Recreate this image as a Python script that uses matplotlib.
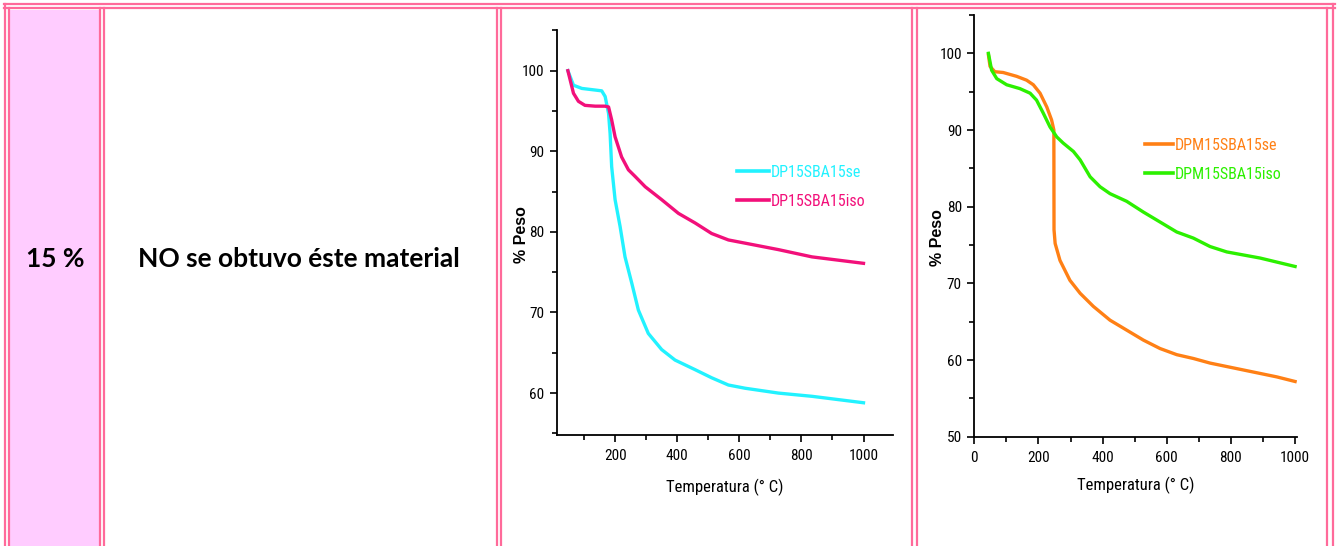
import matplotlib
matplotlib.use("Agg")
import matplotlib.pyplot as plt
from matplotlib import font_manager
from matplotlib.patches import Rectangle
from matplotlib.lines import Line2D
from matplotlib.ticker import MultipleLocator

# ---- data: thermogravimetric curves (temperature in °C, weight %) ----
dp_se_T = [48, 66, 93, 136, 157, 168, 179, 184, 189, 200, 216, 232, 254, 275, 307, 350, 393,
           458, 511, 565, 619, 726, 834, 1000]
dp_se_W = [100, 98.2, 97.8, 97.6, 97.5, 96.8, 94.7, 92.2, 88.1, 84.0, 80.7, 76.9, 73.6, 70.3,
           67.4, 65.4, 64.1, 62.9, 61.9, 61.0, 60.6, 60.0, 59.6, 58.8]

dp_iso_T = [48, 66, 82, 103, 136, 168, 179, 189, 200, 221, 243, 264, 297, 350, 404, 458, 511,
            565, 619, 726, 834, 1000]
dp_iso_W = [100, 97.2, 96.2, 95.7, 95.6, 95.6, 95.5, 93.9, 91.8, 89.3, 87.7, 86.9, 85.6, 84.0,
            82.3, 81.1, 79.8, 79.0, 78.6, 77.8, 76.9, 76.1]

dpm_se_T = [44, 49, 64, 90, 132, 163, 184, 205, 226, 241, 248, 248.5, 252, 267, 298, 330, 371,
            423, 475, 527, 579, 631, 683, 735, 839, 943, 1000]
dpm_se_W = [99.8, 98.3, 97.6, 97.5, 97.0, 96.5, 95.9, 94.8, 93.0, 91.3, 90.0, 77.0, 75.2, 73.0,
            70.4, 68.7, 67.0, 65.2, 63.9, 62.6, 61.5, 60.7, 60.2, 59.6, 58.7, 57.8, 57.2]

dpm_iso_T = [44, 54, 70, 101, 142, 174, 194, 215, 236, 257, 277, 309, 330, 361, 392, 423, 475,
             527, 579, 631, 683, 735, 787, 891, 1000]
dpm_iso_W = [100, 97.8, 96.7, 95.9, 95.4, 94.8, 93.9, 92.2, 90.4, 89.1, 88.3, 87.2, 86.1, 83.9,
             82.6, 81.7, 80.7, 79.3, 78.0, 76.7, 75.9, 74.8, 74.1, 73.3, 72.2]

row_label = "15 %"
row_note = "NO se obtuvo éste material"
x_label = "Temperatura (° C)"
y_label = "% Peso"
labels_dp = ["DP15SBA15se", "DP15SBA15iso"]
labels_dpm = ["DPM15SBA15se", "DPM15SBA15iso"]

# ---- styling ----
PINK = "#FF6A9A"
CELL_FILL = "#FFCCFF"
CYAN = "#22F2FF"
MAGENTA = "#F2107A"
ORANGE = "#FF8015"
GREEN = "#2CF000"


def pick_narrow_font():
    """Return (family, stretch) of a condensed sans face if one is installed."""
    entries = font_manager.fontManager.ttflist
    names = {f.name for f in entries}
    for fam in ("Liberation Sans Narrow", "Roboto Condensed", "DejaVu Sans Condensed",
                "Noto Sans Condensed", "Open Sans Condensed", "Arial Narrow"):
        if fam in names:
            return fam, "normal"
    for f in entries:
        if f.style == "normal" and str(f.stretch) in ("condensed", "semi-condensed") \
                and f.weight in (400, "normal", "regular"):
            return f.name, f.stretch
    for f in entries:
        if ("Condensed" in f.name or "Narrow" in f.name) and f.style == "normal":
            return f.name, "normal"
    return "Liberation Sans", "normal"


NARROW, STRETCH = pick_narrow_font()
names = {f.name for f in font_manager.fontManager.ttflist}
BODY = "Lato" if "Lato" in names else "DejaVu Sans"
NFONT = {"family": NARROW, "stretch": STRETCH}

W, H = 1338, 546
fig = plt.figure(figsize=(W / 100, H / 100), dpi=100)
fig.patch.set_facecolor("white")

# table frame drawn in pixel coordinates
frame = fig.add_axes([0, 0, 1, 1], zorder=0)
frame.set_xlim(0, W)
frame.set_ylim(H, 0)
frame.axis("off")
frame.add_patch(Rectangle((10, 9.5), 89, H, facecolor=CELL_FILL, edgecolor="none"))
for y in (4, 8.3):
    frame.add_line(Line2D([4, 1335], [y, y], color=PINK, lw=1.6))
for x in (5, 9.3, 100, 104.3, 496.7, 501, 911.7, 916.7, 1326.7, 1332.5):
    top = 4 if x in (5, 1332.5) else 8.3
    frame.add_line(Line2D([x, x], [top, H], color=PINK, lw=1.6))
frame.text(55, 259, row_label, ha="center", va="center", fontsize=19,
           fontweight="bold", family=BODY)
frame.text(299, 259, row_note, ha="center", va="center", fontsize=19,
           fontweight="bold", family=BODY)


def tga_axes(rect, xlim, ylim, xmajor_from, ylab_x, ylab_y):
    ax = fig.add_axes(rect, zorder=2)
    ax.patch.set_alpha(0)
    ax.set_xlim(*xlim)
    ax.set_ylim(*ylim)
    for s in ("top", "right"):
        ax.spines[s].set_visible(False)
    for s in ("left", "bottom"):
        ax.spines[s].set_linewidth(1.3)
    ax.xaxis.set_major_locator(MultipleLocator(200))
    ax.xaxis.set_minor_locator(MultipleLocator(100))
    ax.yaxis.set_major_locator(MultipleLocator(10))
    ax.yaxis.set_minor_locator(MultipleLocator(5))
    ax.tick_params(which="major", direction="out", length=5, width=1.2, labelsize=11)
    ax.tick_params(axis="x", which="major", pad=5)
    ax.tick_params(axis="y", which="major", pad=4)
    ax.tick_params(which="minor", direction="out", length=3.5, width=1.2)
    ax.set_xticks([t for t in range(0, 1001, 200) if t >= xmajor_from])
    for lab in ax.get_xticklabels() + ax.get_yticklabels():
        lab.set_family(NARROW)
        lab.set_stretch(STRETCH)
    ax.set_xlabel(x_label, fontsize=12, **NFONT)
    ax.set_ylabel(y_label, fontsize=11.5, fontweight="bold", family="Liberation Sans",
                  va="center")
    ax.yaxis.set_label_coords((ylab_x / W - rect[0]) / rect[2],
                              ((1 - ylab_y / H) - rect[1]) / rect[3])
    return ax


def place_xlabel(ax, rect, y_px):
    ax.xaxis.set_label_coords(0.5, ((1 - y_px / H) - rect[1]) / rect[3])
    ax.xaxis.label.set_va("center")


def legend_at(ax, x_px, y_top_px, colors, hlen):
    leg = ax.legend(loc="upper left", bbox_to_anchor=(x_px / W, 1 - y_top_px / H),
                    bbox_transform=fig.transFigure, frameon=False, borderpad=0,
                    borderaxespad=0, handlelength=hlen, handletextpad=0.1,
                    labelspacing=0.85, prop={"family": NARROW, "stretch": STRETCH,
                                             "size": 11.5})
    for t, c in zip(leg.get_texts(), colors):
        t.set_color(c)
    for h in leg.get_lines():
        h.set_linewidth(2.6)
    return leg


rect1 = [556.7 / W, 1 - 435 / H, (893 - 556.7) / W, (435 - 30) / H]
ax1 = tga_axes(rect1, (12, 1095), (54.8, 105.05), 200, 521, 235)
place_xlabel(ax1, rect1, 487)
ax1.plot(dp_se_T, dp_se_W, color=CYAN, lw=2.4, label=labels_dp[0])
ax1.plot(dp_iso_T, dp_iso_W, color=MAGENTA, lw=2.4, label=labels_dp[1])
legend_at(ax1, 737, 165, (CYAN, MAGENTA), 2.0)

rect2 = [974.3 / W, 1 - 436.7 / H, (1296.7 - 974.3) / W, (436.7 - 15) / H]
ax2 = tga_axes(rect2, (0, 1005), (50, 105), 0, 938, 238)
place_xlabel(ax2, rect2, 485)
ax2.plot(dpm_se_T, dpm_se_W, color=ORANGE, lw=2.4, label=labels_dpm[0])
ax2.plot(dpm_iso_T, dpm_iso_W, color=GREEN, lw=2.4, label=labels_dpm[1])
legend_at(ax2, 1145, 138, (ORANGE, GREEN), 1.75)

fig.savefig("out.png", dpi=100)
